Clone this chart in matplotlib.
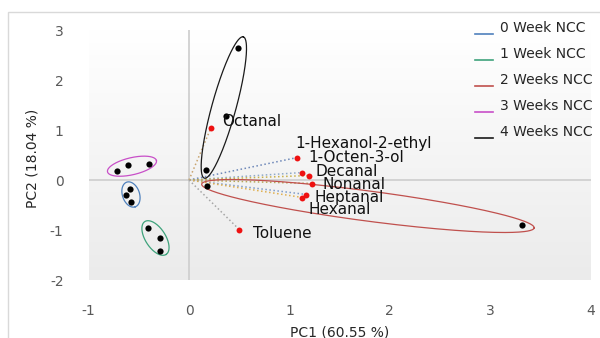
import numpy as np
import matplotlib
matplotlib.use('Agg')
import matplotlib.pyplot as plt
from matplotlib.colors import LinearSegmentedColormap
from matplotlib.patches import Rectangle

plt.rcParams['axes.unicode_minus'] = False

# sample scores per group
groups = ['0 Week NCC', '1 Week NCC', '2 Weeks NCC', '3 Weeks NCC', '4 Weeks NCC']
pc1_scores = [[-0.59, -0.63, -0.58],
              [-0.41, -0.29, -0.29],
              [0.18, 3.32],
              [-0.72, -0.61, -0.40],
              [0.49, 0.37, 0.17]]
pc2_scores = [[-0.18, -0.29, -0.43],
              [-0.95, -1.15, -1.41],
              [-0.12, -0.90],
              [0.19, 0.31, 0.32],
              [2.65, 1.29, 0.21]]

# loadings of the volatile compounds
compounds = ['Octanal', '1-Octen-3-ol', '1-Hexanol-2-ethyl', 'Decanal',
             'Nonanal', 'Heptanal', 'Hexanal', 'Toluene']
pc1_load = [0.22, 1.08, 1.13, 1.20, 1.23, 1.17, 1.13, 0.50]
pc2_load = [1.05, 0.45, 0.15, 0.09, -0.07, -0.29, -0.35, -0.99]

xticks = [-1, 0, 1, 2, 3, 4]
yticks = [-2, -1, 0, 1, 2, 3]

# styling
group_colors = ['#4f81bd', '#3fa37c', '#c0504d', '#c84fc8', '#1a1a1a']
# ellipse: center x, center y, semi-major, semi-minor (x units), angle on screen
ellipses = [(-0.578, -0.29, 0.13, 0.085, -71),
            (-0.334, -1.16, 0.195, 0.10, -57),
            (1.782, -0.52, 1.67, 0.15, -7.5),
            (-0.568, 0.276, 0.25, 0.085, 13),
            (0.347, 1.45, 0.73, 0.12, 74.6)]
line_colors = ['#c9a46e', '#6d87b8', '#8fa9c9', '#c8b04a',
               '#b7a85a', '#7f9bc8', '#e0b050', '#a6a6a6']
label_offsets = [(8, 4), (8, 0), (-5, 21), (4, 3),
                 (7, -1), (6, -2), (4, -8.5), (10, -3)]

W, H = 600, 338
fig = plt.figure(figsize=(W / 100, H / 100), dpi=100)
fig.patch.set_facecolor('white')
fig.add_artist(Rectangle((7.5 / W, -0.1), 1.2, (H - 12) / H + 0.1,
                         transform=fig.transFigure, fill=False,
                         edgecolor='#d9d9d9', linewidth=1))

ax_l, ax_r, ax_t, ax_b = 88.6, 590.6, 30, 280
ax = fig.add_axes([ax_l / W, (H - ax_b) / H, (ax_r - ax_l) / W, (ax_b - ax_t) / H])
ax.set_xlim(-1, 4)
ax.set_ylim(-2, 3)

# gradient plot area
cmap = LinearSegmentedColormap.from_list('bg', ['#ffffff', '#ebebeb'])
ax.imshow(np.linspace(0, 1, 256)[:, None], extent=(-1, 4, -2, 3), aspect='auto',
          cmap=cmap, origin='upper', zorder=0)

ax.axhline(0, color='#d0d0d0', lw=1.3, zorder=1)
ax.axvline(0, color='#d0d0d0', lw=1.3, zorder=1)

# screen aspect: pixels per y unit / pixels per x unit
k = ((ax_b - ax_t) / 5) / ((ax_r - ax_l) / 5)

t = np.linspace(0, 2 * np.pi, 300)
for (cx, cy, a, b, ang), col in zip(ellipses, group_colors):
    th = np.radians(ang)
    u, v = a * np.cos(t), b * np.sin(t)
    ex = cx + u * np.cos(th) - v * np.sin(th)
    ey = cy + (u * np.sin(th) + v * np.cos(th)) / k
    ax.plot(ex, ey, color=col, lw=0.9, zorder=3)

for i in range(len(compounds)):
    ax.plot([0, pc1_load[i]], [0, pc2_load[i]], linestyle=':', color=line_colors[i],
            lw=1.1, zorder=2)
ax.scatter(pc1_load, pc2_load, s=18, color='#ee1111', zorder=4, linewidths=0)
for i, name in enumerate(compounds):
    ax.annotate(name, (pc1_load[i], pc2_load[i]), xytext=label_offsets[i],
                textcoords='offset points', ha='left', va='center',
                fontsize=11, color='#111111', zorder=5)

for xs, ys in zip(pc1_scores, pc2_scores):
    ax.scatter(xs, ys, s=20, color='black', zorder=4, linewidths=0)

for s in ax.spines.values():
    s.set_visible(False)
ax.set_xticks(xticks)
ax.set_yticks(yticks)
ax.tick_params(axis='x', length=0, pad=17, labelsize=10, labelcolor='#595959')
ax.tick_params(axis='y', length=0, pad=18, labelsize=10, labelcolor='#595959')

fig.text((ax_l + ax_r) / 2 / W, 1 - 332 / H, 'PC1 (60.55 %)', ha='center',
         va='center', fontsize=10, color='#262626')
fig.text(32 / W, 1 - 158 / H, 'PC2 (18.04 %)', ha='center', va='center',
         rotation=90, fontsize=10, color='#262626')

# legend
for i, (g, col) in enumerate(zip(groups, group_colors)):
    yc = 28 + 26 * i
    fig.add_artist(plt.Line2D([475 / W, 493 / W], [1 - (yc + 6) / H] * 2,
                              color=col, lw=1.2))
    fig.text(500 / W, 1 - yc / H, g, ha='left', va='center', fontsize=10,
             color='#262626')

fig.savefig('out.png', dpi=100)
